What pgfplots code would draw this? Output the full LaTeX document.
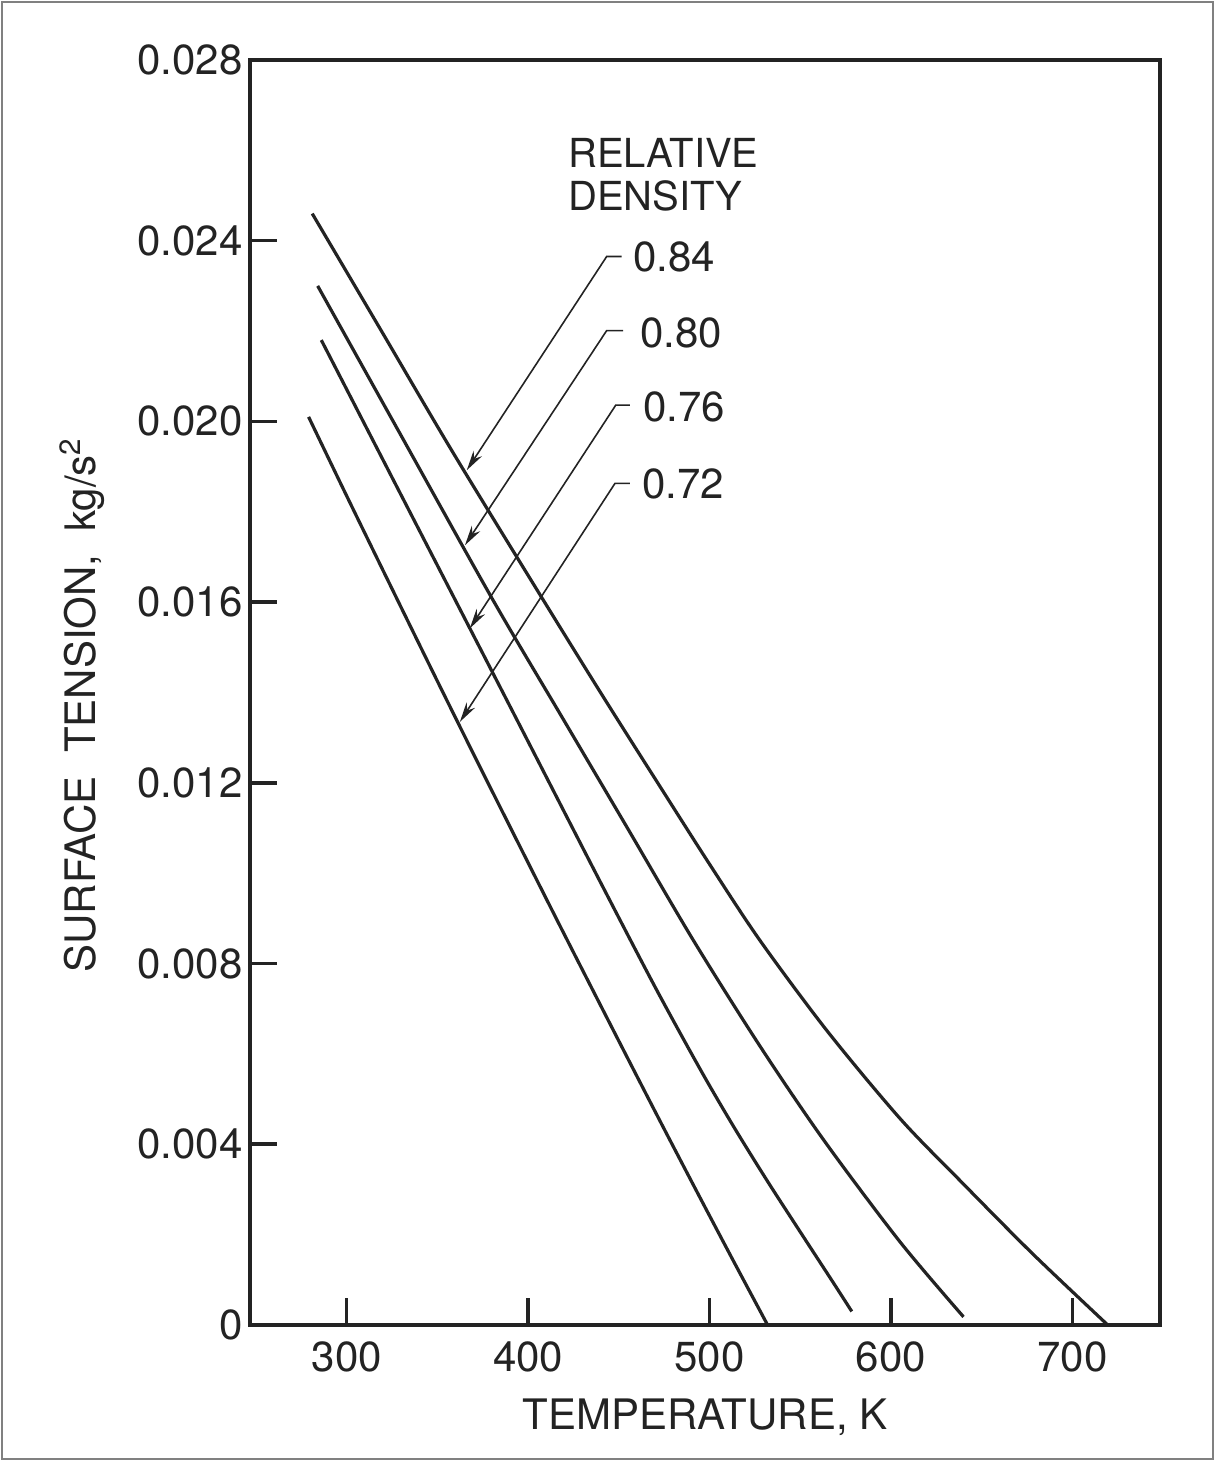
\documentclass[border=0pt]{standalone}
\usepackage{fontspec}
\setmainfont{TeX Gyre Heros}
\usepackage{pgfplots}
\pgfplotsset{compat=1.18}
\usetikzlibrary{arrows.meta}
\definecolor{ink}{RGB}{35,35,35}
\newcommand{\bigfont}{\fontsize{21}{21}\selectfont}
\begin{document}
\begin{tikzpicture}
\begin{axis}[name=ax, at={(0,0)}, anchor=south west,
  scale only axis, width=455pt, height=632.5pt,
  xmin=246.7, xmax=748.3, ymin=0, ymax=0.028,
  axis line style={line width=1.8pt, ink},
  xtick={300,400,500,600,700},
  xticklabels={300,400,500,600,700},
  ytick={0,0.004,0.008,0.012,0.016,0.020,0.024,0.028},
  yticklabels={0,0.004,0.008,0.012,0.016,0.020,0.024,0.028},
  scaled y ticks=false,
  xtick pos=bottom, ytick pos=left, tick align=inside,
  major tick length=13.5pt,
  tick style={line width=1.8pt, ink},
  tick label style={font=\bigfont, text=ink},
  xticklabel style={inner sep=8pt},
  yticklabel style={inner sep=3.5pt},
  xlabel={TEMPERATURE, K},
  ylabel={SURFACE\ \ TENSION,\ \ kg/s\textsuperscript{2}},
  label style={font=\bigfont, text=ink},
  xlabel style={at={(axis description cs:0.5,-0.083)}, anchor=base},
  ylabel style={at={(axis description cs:-0.1846,0.49)}, anchor=center},
  clip=false,
]
% 0.84
\addplot[ink, line width=1.6pt, smooth] coordinates {
 (281,0.0246) (318,0.02208) (358,0.01935) (406,0.0162) (441,0.01393) (473,0.0119)
 (500,0.0102) (528,0.0085) (565,0.0065) (605,0.00457) (638,0.0032) (678,0.00158)
 (719.5,0)};
% 0.80
\addplot[ink, line width=1.6pt, smooth] coordinates {
 (284,0.0230) (328,0.01983) (380,0.01609) (418.6,0.01346) (454.3,0.01103) (491,0.00852)
 (528,0.00616) (563,0.00409) (605,0.00184) (640,0.00018)};
% 0.76
\addplot[ink, line width=1.6pt, smooth] coordinates {
 (286,0.0218) (330,0.01837) (368,0.01541) (403,0.01268) (440,0.00979) (470,0.00748)
 (495,0.00565) (513,0.00441) (531.5,0.00321) (550,0.00206) (568,0.00095) (578.4,0.0003)};
% 0.72
\addplot[ink, line width=1.6pt, smooth] coordinates {
 (279,0.0201) (300,0.01835) (327,0.01613) (350,0.01425) (371,0.01255) (395,0.01063)
 (418,0.0088) (440,0.00707) (458,0.00566) (476,0.00426) (495,0.0028) (513,0.00143)
 (532,0)};

\node[anchor=north west, inner sep=0pt, align=left, text=ink,
      font=\fontsize{20}{21.5}\selectfont] at (axis cs:421.9,0.02627) {RELATIVE\\DENSITY};

\draw[ink, line width=0.8pt, -{Stealth[length=10pt,width=5pt]}]
  (axis cs:451.6,0.02365) -- (axis cs:443.3,0.02365) -- (axis cs:366.2,0.01892);
\draw[ink, line width=0.8pt, -{Stealth[length=10pt,width=5pt]}]
  (axis cs:452.3,0.02201) -- (axis cs:443.3,0.02201) -- (axis cs:365.2,0.01726);
\draw[ink, line width=0.8pt, -{Stealth[length=10pt,width=5pt]}]
  (axis cs:456.1,0.02036) -- (axis cs:448.3,0.02036) -- (axis cs:367.9,0.01542);
\draw[ink, line width=0.8pt, -{Stealth[length=10pt,width=5pt]}]
  (axis cs:456.1,0.01863) -- (axis cs:447.9,0.01863) -- (axis cs:362.4,0.01335);

\node[anchor=west, inner sep=0pt, font=\bigfont, text=ink] at (axis cs:457.8,0.02364) {0.84};
\node[anchor=west, inner sep=0pt, font=\bigfont, text=ink] at (axis cs:461.7,0.02196) {0.80};
\node[anchor=west, inner sep=0pt, font=\bigfont, text=ink] at (axis cs:463.3,0.02032) {0.76};
\node[anchor=west, inner sep=0pt, font=\bigfont, text=ink] at (axis cs:462.8,0.01861) {0.72};
\end{axis}
\pgfresetboundingbox
\path[use as bounding box] ([shift={(-125pt,-68pt)}]ax.south west) rectangle ([shift={(482.5pt,662.5pt)}]ax.south west);
\draw[line width=1pt, gray] ([shift={(-124pt,-67pt)}]ax.south west) rectangle ([shift={(481.5pt,661.5pt)}]ax.south west);
\end{tikzpicture}
\end{document}
